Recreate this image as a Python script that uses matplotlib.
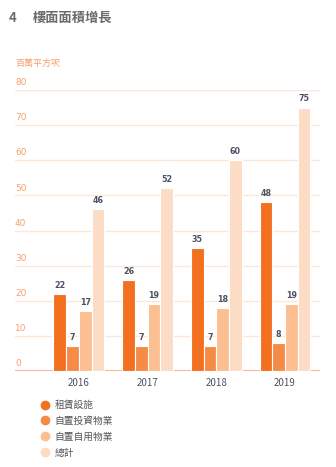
import matplotlib
matplotlib.use("Agg")
import matplotlib.pyplot as plt
from matplotlib.lines import Line2D
import matplotlib.transforms as mtransforms
import numpy as np

plt.rcParams['font.family'] = ['Noto Sans CJK TC', 'DejaVu Sans']

years = ['2016', '2017', '2018', '2019']
series_names = ['租賃設施', '自置投資物業', '自置自用物業', '總計']
rent = [22, 26, 35, 48]
self_invest = [7, 7, 7, 8]
self_use = [17, 19, 18, 19]
total = [46, 52, 60, 75]
yticks = [0, 10, 20, 30, 40, 50, 60, 70, 80]

colors = ['#f37021', '#f68b47', '#fbbf92', '#fddcc6']
label_color = '#4b5363'
tick_color = '#f7a06e'
grid_color = '#fde7d8'

fig = plt.figure(figsize=(3.36, 4.67), dpi=100)
ax = fig.add_axes([15/336, 1 - 371/467, (320-15)/336, (371-90)/467])

x = np.arange(len(years))
w = 0.185
all_series = [rent, self_invest, self_use, total]
offsets = [-1.5, -0.5, 0.5, 1.5]
for vals, off, c in zip(all_series, offsets, colors):
    bars = ax.bar(x + off * w, vals, width=w, color=c, edgecolor='white',
                  linewidth=0.8, zorder=3)
    for b, v in zip(bars, vals):
        ax.annotate(str(v), (b.get_x() + b.get_width() / 2, b.get_height()),
                    xytext=(0, 3), textcoords='offset points', ha='center',
                    va='bottom', fontsize=5.8, fontweight='bold',
                    color=label_color, family=['DejaVu Sans'])

ax.set_xlim(-0.93, 3.51)
ax.set_ylim(0, 80)

trans = mtransforms.blended_transform_factory(ax.transAxes, ax.transData)
for t in yticks:
    if t > 0:
        ax.axhline(t, color=grid_color, linewidth=1.0, zorder=1)
    ax.text(0.0, t + 0.8, str(t), transform=trans, ha='left', va='bottom',
            fontsize=6.5, color=tick_color, family=['DejaVu Sans'])
ax.axhline(0, color='#f6a878', linewidth=1.2, zorder=2)

for s in ax.spines.values():
    s.set_visible(False)
ax.set_yticks([])
ax.set_xticks(x)
ax.set_xticklabels(years, fontsize=7, color=label_color)
ax.tick_params(axis='x', length=0, pad=5)

fig.text(9/336, 1 - 18/467, '4', fontsize=9.5, fontweight='bold', color='#6b6b6b',
         ha='left', va='center')
fig.text(33/336, 1 - 18/467, '樓面面積增長', fontsize=9.5, fontweight='bold',
         color='#6b6b6b', ha='left', va='center')
fig.text(15/336, 1 - 63/467, '百萬平方呎', fontsize=6.5, color=tick_color,
         ha='left', va='center')

handles = [Line2D([], [], marker='o', linestyle='none', markersize=6,
                  markerfacecolor=c, markeredgecolor=c) for c in colors]
fig.legend(handles, series_names, loc='upper left',
           bbox_to_anchor=(40/336, 1 - 400/467), frameon=False,
           fontsize=7, labelcolor='#555555', handletextpad=0.5,
           labelspacing=0.6, handlelength=1.0, borderpad=0, borderaxespad=0)

fig.savefig('out.png', dpi=100)
